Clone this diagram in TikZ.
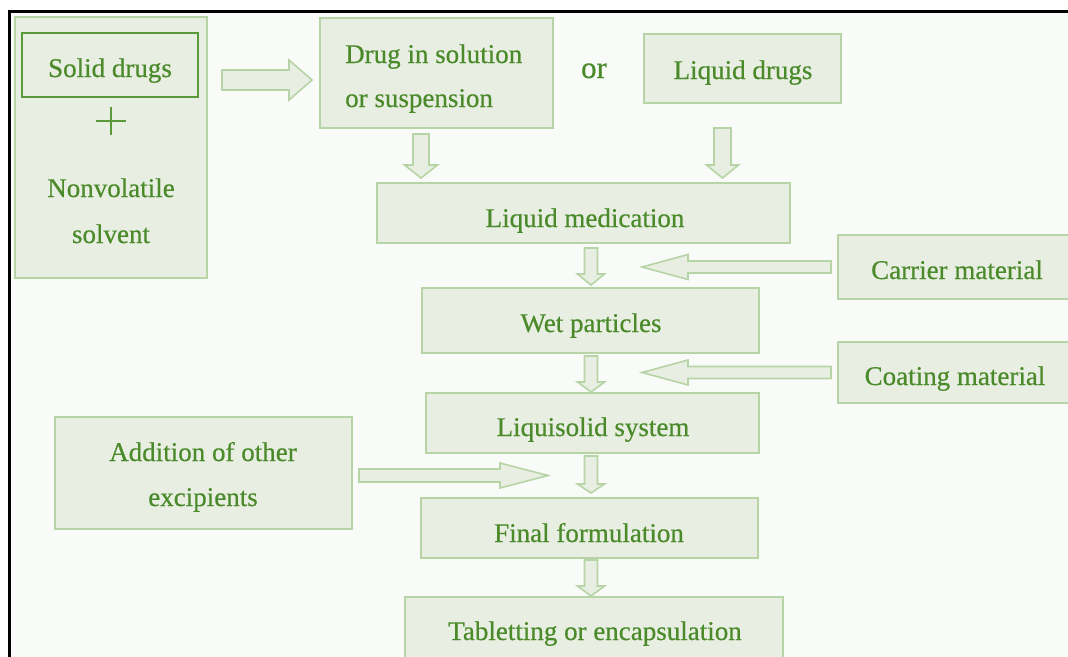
\documentclass[tikz,border=0pt]{standalone}
\usepackage{fontspec}
\setmainfont{Liberation Serif}[FakeBold=0.5]
\usetikzlibrary{calc}
\definecolor{txtg}{HTML}{4A8A2A}
\definecolor{boxf}{HTML}{E8EFE2}
\definecolor{boxd}{HTML}{B6D4A6}
\definecolor{darkg}{HTML}{5A9A3A}
\definecolor{bgc}{HTML}{F9FBF8}
\tikzset{
  box/.style={draw=boxd, fill=boxf, line width=2pt, inner sep=0pt, rectangle},
  txt/.style={text=txtg, font=\fontsize{27}{45}\selectfont, inner sep=0pt, anchor=base},
  barrow/.style={draw=boxd, fill=boxf, line width=1.6pt, line join=miter},
}
% vertical block arrow pointing down: start, end, shaft half width, head half width, head length
\newcommand\vblock[5]{\draw[barrow] let \p1=(#1), \p2=(#2) in
  (\x1-#3pt,\y1) -- (\x1+#3pt,\y1) -- (\x1+#3pt,\y2+#5pt) -- (\x1+#4pt,\y2+#5pt)
  -- (\x1,\y2) -- (\x1-#4pt,\y2+#5pt) -- (\x1-#3pt,\y2+#5pt) -- cycle;}
% block arrow pointing right
\newcommand\rblock[5]{\draw[barrow] let \p1=(#1), \p2=(#2) in
  (\x1,\y1+#3pt) -- (\x2-#5pt,\y1+#3pt) -- (\x2-#5pt,\y1+#4pt) -- (\x2,\y1)
  -- (\x2-#5pt,\y1-#4pt) -- (\x2-#5pt,\y1-#3pt) -- (\x1,\y1-#3pt) -- cycle;}
% block arrow pointing left
\newcommand\lblock[5]{\draw[barrow] let \p1=(#1), \p2=(#2) in
  (\x1,\y1+#3pt) -- (\x2+#5pt,\y1+#3pt) -- (\x2+#5pt,\y1+#4pt) -- (\x2,\y1)
  -- (\x2+#5pt,\y1-#4pt) -- (\x2+#5pt,\y1-#3pt) -- (\x1,\y1-#3pt) -- cycle;}
\begin{document}
\begin{tikzpicture}[x=1pt,y=-1pt]
\useasboundingbox (0,0) rectangle (1068,656);
\fill[white] (0,0) rectangle (1068,656);
\draw[black, line width=3pt, fill=bgc] (9.5,11.5) rectangle (1090,690);

% boxes
\node[box, minimum width=192pt, minimum height=261pt] (outer) at (111,147.5) {};
\node[box, draw=darkg, minimum width=176pt, minimum height=64pt] (solid) at (110,64.5) {};
\node[box, minimum width=233pt, minimum height=110.5pt] (drug) at (436.5,72.75) {};
\node[box, minimum width=197pt, minimum height=69pt] (liqd) at (742.5,68.5) {};
\node[box, minimum width=413pt, minimum height=60pt] (liqmed) at (583.5,213) {};
\node[box, minimum width=242pt, minimum height=64pt] (carrier) at (959,267) {};
\node[box, minimum width=337pt, minimum height=65pt] (wet) at (590.5,320.5) {};
\node[box, minimum width=242pt, minimum height=61pt] (coating) at (959,372.5) {};
\node[box, minimum width=333pt, minimum height=60pt] (liqsol) at (592.5,423) {};
\node[box, minimum width=297pt, minimum height=112pt] (addition) at (203.5,473) {};
\node[box, minimum width=337pt, minimum height=60pt] (final) at (589.5,528) {};
\node[box, minimum width=378pt, minimum height=73pt] (tab) at (594,633.5) {};

% plus sign
\draw[darkg, line width=1.8pt] (96,121) -- (126,121) (111,107) -- (111,135);

% texts
\node[txt] (tsolid) at (110,77) {Solid drugs};
\node[txt] (tnon1) at (111,197) {Nonvolatile};
\node[txt] (tnon2) at (111,243) {solvent};
\node[txt, anchor=base west] (tdrug1) at (345,63) {Drug in solution};
\node[txt, anchor=base west] (tdrug2) at (345,107) {or suspension};
\node[txt, font=\fontsize{31}{36}\selectfont] (tor) at (594,78) {or};
\node[txt] (tliqd) at (743,79) {Liquid drugs};
\node[txt] (tliqmed) at (585,227) {Liquid medication};
\node[txt] (tcarrier) at (957,279) {Carrier material};
\node[txt] (twet) at (591,332) {Wet particles};
\node[txt] (tcoating) at (955,385) {Coating material};
\node[txt] (tliqsol) at (593,436) {Liquisolid system};
\node[txt] (tadd1) at (203,461) {Addition of other};
\node[txt] (tadd2) at (203,506) {excipients};
\node[txt] (tfinal) at (589,542) {Final formulation};
\node[txt] (ttab) at (595,640) {Tabletting or encapsulation};

% free arrow tips
\coordinate (cartip) at (642,267);
\coordinate (coatip) at (642,372.5);
\coordinate (addtip) at (548,475.5);

% arrows
\rblock{$(outer.east)+(14,-67.5)$}{$(drug.west)+(-7,0)$}{10}{20}{23}
\vblock{$(drug.south)+(-15.5,5)$}{$(liqmed.north)+(0,-4)$}{8}{16.5}{13}
\vblock{$(liqd.south)+(-20,24)$}{$(liqmed.north)+(0,-4)$}{8.5}{16}{13}
\vblock{$(liqmed.south)+(7.5,4)$}{$(wet.north)+(0,-2)$}{6.5}{13.5}{11}
\vblock{$(wet.south)+(0.5,2)$}{$(liqsol.north)+(0,0)$}{6.5}{13.5}{10}
\vblock{$(liqsol.south)+(-1.5,2)$}{$(final.north)+(0,-4)$}{6.5}{13.5}{9}
\vblock{$(final.south)+(1.5,1)$}{tab.north}{6.5}{13.5}{10}
\lblock{$(carrier.west)+(-6,0)$}{cartip}{6}{12.5}{46}
\lblock{$(coating.west)+(-6,0)$}{coatip}{6}{12.5}{46}
\rblock{$(addition.east)+(6,2.5)$}{addtip}{6.5}{12.5}{48}
\end{tikzpicture}
\end{document}
